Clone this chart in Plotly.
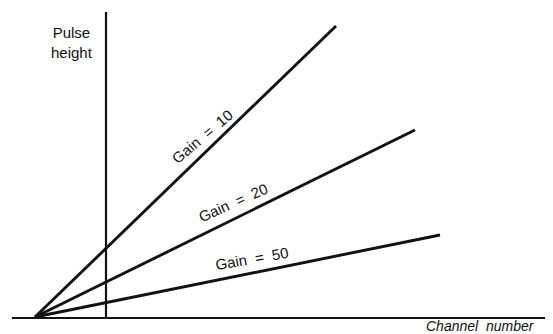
import plotly.graph_objects as go

# channel number / pulse height at the far end of each gain line (origin at 0,0)
gains = [10, 20, 50]
channel_end = [301, 380, 405]
height_end = [291, 187, 82]

# label placement (data coords) and tilt for each line
label_x = [167, 198, 217]
label_y = [181, 115, 59]
label_angle = [-40, -24, -10]

fig = go.Figure()

for g, cx, hy in zip(gains, channel_end, height_end):
    fig.add_trace(go.Scatter(
        x=[0, cx], y=[0, hy], mode="lines",
        line=dict(color="#111111", width=2.9),
        hoverinfo="skip", showlegend=False,
    ))

# axes drawn by hand: long baseline and the vertical marker line
fig.add_shape(type="line", x0=-23, x1=530, y0=-1, y1=-1,
              line=dict(color="#111111", width=2.2))
fig.add_shape(type="line", x0=71, x1=71, y0=-1, y1=305,
              line=dict(color="#111111", width=2.2))

for g, lx, ly, ang in zip(gains, label_x, label_y, label_angle):
    fig.add_annotation(
        x=lx, y=ly, text=f"Gain\u00a0\u00a0=\u00a0\u00a0{g}", textangle=ang,
        showarrow=False, font=dict(family="Liberation Sans", size=15, color="#111111"),
    )

fig.add_annotation(
    x=37, y=275, text="Pulse<br>height", showarrow=False, align="center",
    font=dict(family="Liberation Sans", size=15, color="#111111"),
)
fig.add_annotation(
    x=389, y=-9, xanchor="left", text="<i>Channel\u00a0\u00a0number</i>", showarrow=False,
    font=dict(family="Liberation Sans", size=14, color="#111111"),
)

# page body has an 8px margin, so the figure is sized to the visible area
fig.update_xaxes(range=[-27, 518], visible=False)
fig.update_yaxes(range=[-17, 309], visible=False)
fig.update_layout(
    width=545, height=326,
    margin=dict(l=0, r=0, t=0, b=0),
    paper_bgcolor="white", plot_bgcolor="white",
)

fig.write_html("out.html")
